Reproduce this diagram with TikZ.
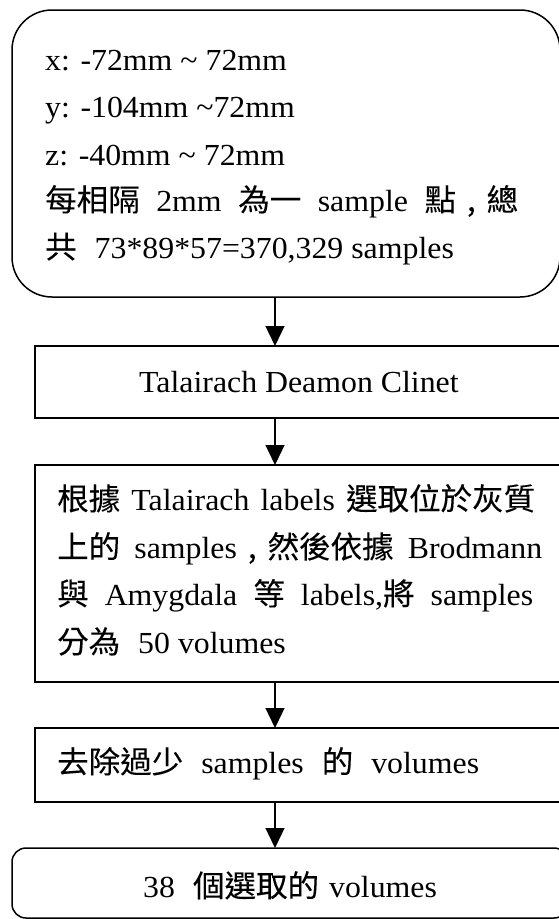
\documentclass[tikz,border=0pt]{standalone}
\usepackage{fontspec}
\setmainfont[FakeStretch=1.04]{Liberation Serif}
\newfontfamily\cjk[FakeStretch=1.03,FakeBold=0.15]{Noto Sans CJK TC}
\usetikzlibrary{arrows.meta}
\newcommand\cjgap{\hspace{18pt}}
\newcommand\ccomma{{\cjk\makebox[1em][c]{,}}}
\begin{document}
\begin{tikzpicture}[x=1pt,y=-1pt,
 box/.style={draw, line width=1.5pt, anchor=north west, inner sep=0pt, outer sep=0pt},
 txt/.style={anchor=base west, inner sep=0pt, font=\fontsize{30.6}{36}\selectfont},
 arr/.style={line width=1.3pt, -{Triangle[width=19pt,length=20pt]}}]
\useasboundingbox (0,0) rectangle (559,919);
% boxes
\node[box, rounded corners=40pt, minimum width=548pt, minimum height=287pt] (b1) at (12,10) {};
\node[box, minimum width=530pt, minimum height=72pt] (b2) at (35,346) {};
\node[box, minimum width=530pt, minimum height=217pt] (b3) at (35,465) {};
\node[box, minimum width=530pt, minimum height=74pt] (b4) at (35,728) {};
\node[box, rounded corners=14pt, minimum width=556pt, minimum height=70pt] (b5) at (12,848) {};
% texts
\node[txt] (t11) at (45,70) {x: -72mm \textasciitilde\ 72mm};
\node[txt] (t12) at (45,117) {y: -104mm \textasciitilde72mm};
\node[txt] (t13) at (45,165) {z: -40mm \textasciitilde\ 72mm};
\node[txt] (t14) at (45,211) {\makebox[473pt][s]{{\cjk 每相隔} 2mm {\cjk 為一} sample {\cjk 點}\ccomma{\cjk 總}}};
\node[txt] (t15) at (45,258) {{\cjk 共}\cjgap 73*89*57=370,329 samples};
\node[txt] (t2) at (139,392) {Talairach Deamon Clinet};
\node[txt] (t31) at (57,510) {\makebox[478pt][s]{{\cjk 根據} Talairach labels {\cjk 選取位於灰質}}};
\node[txt] (t32) at (57,558) {\makebox[485pt][s]{{\cjk 上的} samples\ccomma{\cjk 然後依據} Brodmann}};
\node[txt] (t33) at (57,605) {\makebox[476pt][s]{{\cjk 與} Amygdala {\cjk 等} labels,{\cjk 將} samples}};
\node[txt] (t34) at (57,653) {{\cjk 分為}\cjgap 50 volumes};
\node[txt] (t4) at (57,773) {{\cjk 去除過少}\cjgap samples\cjgap{\cjk 的}\cjgap volumes};
\node[txt] (t5) at (143,897) {38\cjgap{\cjk 個選取的}\hspace{10pt}volumes};
% connectors
\coordinate (ax) at (275,0);
\draw[arr] (b1.south -| ax) -- (b2.north -| ax);
\draw[arr] (b2.south -| ax) -- (b3.north -| ax);
\draw[arr] (b3.south -| ax) -- (b4.north -| ax);
\draw[arr] (b4.south -| ax) -- (b5.north -| ax);
\end{tikzpicture}
\end{document}
